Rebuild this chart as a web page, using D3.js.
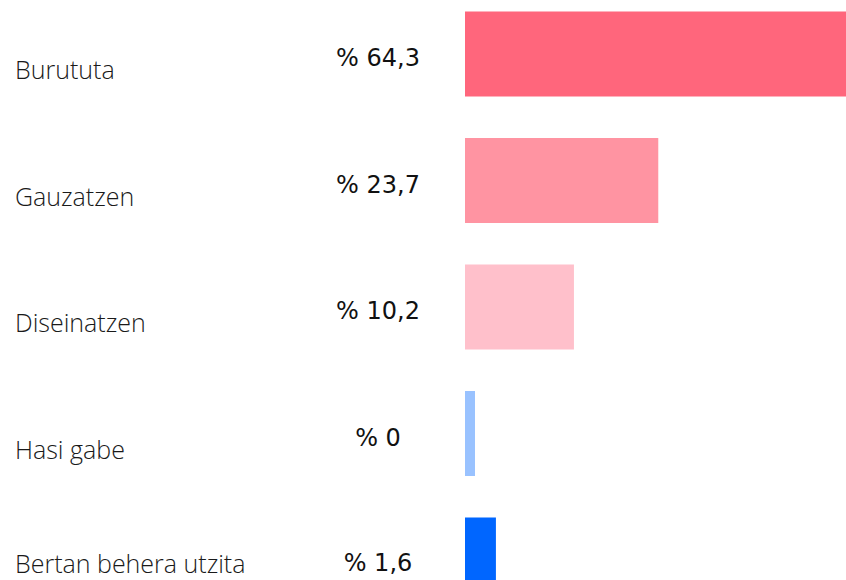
<!DOCTYPE html>
<meta charset="utf-8">

<!-- Load d3.js -->
<script src="https://d3js.org/d3.v7.min.js"></script>

<style>
  body { margin: 0; background: #fff; }
</style>

<!-- Create a div where the graph will take place -->
<div id="my_dataviz"></div>

<script>

// data
var categories = ["Burututa", "Gauzatzen", "Diseinatzen", "Hasi gabe", "Bertan behera utzita"]
var values = [64.3, 23.7, 10.2, 0, 1.6]
var valueLabels = ["% 64,3", "% 23,7", "% 10,2", "% 0", "% 1,6"]
var colors = ["#ff667c", "#ff94a2", "#ffc0cb", "#99c2ff", "#0066ff"]

// set the dimensions of the graph
var width = 846,
  height = 580;

// append the svg object to the body of the page
var svg = d3.select("#my_dataviz")
  .append("svg")
    .attr("width", width)
    .attr("height", height)

// rows
var y = d3.scalePoint()
  .domain(categories)
  .range([54, 560])

// bar length
var x = d3.scalePow()
  .exponent(0.68)
  .domain([0, d3.max(values)])
  .range([0, 381])

var barX = 465
var barH = 85
var minW = 10

// bars
svg.selectAll("rect.bar")
  .data(categories)
  .enter()
  .append("rect")
    .attr("class", "bar")
    .attr("x", barX)
    .attr("y", function(d){ return y(d) - barH/2 })
    .attr("width", function(d, i){ return Math.max(minW, x(values[i])) })
    .attr("height", barH)
    .style("fill", function(d, i){ return colors[i] })

// category labels on the left
svg.selectAll("text.cat")
  .data(categories)
  .enter()
  .append("text")
    .attr("class", "cat")
    .attr("x", 15)
    .attr("y", function(d){ return Math.min(y(d) + 25, height - 7) })
    .style("font-family", "'Open Sans', sans-serif")
    .style("font-weight", 300)
    .style("font-size", "25px")
    .style("fill", "#1a1a1a")
    .text(function(d){ return d })

// percentage values
svg.selectAll("text.val")
  .data(categories)
  .enter()
  .append("text")
    .attr("class", "val")
    .attr("x", 378)
    .attr("y", function(d){ return Math.min(y(d) + 12, height - 9) })
    .attr("text-anchor", "middle")
    .style("font-family", "'DejaVu Sans', sans-serif")
    .style("font-size", "24px")
    .style("fill", "#111")
    .text(function(d, i){ return valueLabels[i] })

</script>
